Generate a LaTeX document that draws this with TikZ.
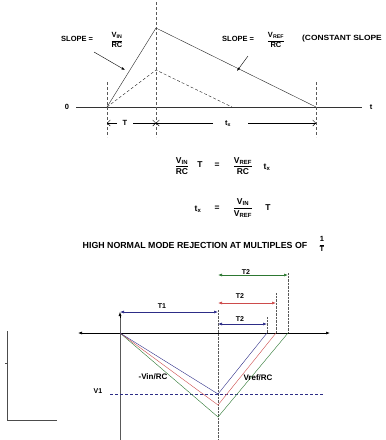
\documentclass[tikz,border=0pt]{standalone}
\usepackage{fontspec}
\usepackage{graphicx}
\setmainfont{Liberation Sans}
\usetikzlibrary{arrows.meta}
\definecolor{navyline}{RGB}{45,45,135}
\definecolor{redline}{RGB}{205,75,75}
\definecolor{greenline}{RGB}{45,120,50}
\newcommand{\lo}[1]{\textsubscript{#1}}
\newcommand{\fr}[2]{\ensuremath{\displaystyle\frac{\mbox{#1}}{\mbox{#2}}}}
\begin{document}
\begin{tikzpicture}[x=1pt,y=-1pt,
  lbl/.style={font=\bfseries\fontsize{7.5}{8}\selectfont,inner sep=0pt},
  sml/.style={font=\bfseries\fontsize{7}{8}\selectfont,inner sep=0pt},
  eqn/.style={font=\bfseries\fontsize{8.5}{9}\selectfont,inner sep=0pt},
  ttl/.style={font=\bfseries\fontsize{8.8}{9}\selectfont,inner sep=0pt},
  guide/.style={densely dashed,gray!70!black,line width=0.4pt},
  dim/.style={-{Straight Barb[length=3pt]},line width=0.4pt},
  dimarrow/.style={{Latex[length=4pt,width=3pt]}-{Latex[length=4pt,width=3pt]},line width=0.6pt}]
\useasboundingbox (0,0) rectangle (386,440);

% integrator output, top
\coordinate (o) at (107,107);
\coordinate (pk) at (156,28);
\coordinate (ed) at (316,107);
\coordinate (pkl) at (156,70);
\coordinate (edl) at (232,107);
\node[lbl] (zero) at (67,107) {0};
\node[lbl] (tt) at (371,107) {t};
\draw[gray!40!black] (76,107) -- (362,107);
\draw[guide] (107,82) -- (107,137);
\draw[guide] (156,2) -- (156,137);
\draw[guide] (316,82) -- (316,137);
\draw[gray!30!black] (o) -- (pk) -- (ed);
\draw[gray!30!black,densely dashed] (o) -- (pkl) -- (edl);

% T and t_x
\node[lbl] (T) at (125,123) {T};
\draw[dim] (117,123) -- (107,123);
\draw[dim] (133,123) -- (156,123);
\node[lbl] (tx) at (228,124) {t\lo{x}};
\draw[dim] (213,123) -- (156,123);
\draw[dim] (248,123) -- (316,123);

% slope labels
\node[lbl,anchor=west] (s1) at (61,39) {SLOPE =};
\node[lbl] (f1) at (117,40) {\fr{V\lo{IN}}{RC}};
\draw[-{Latex[length=3.5pt,width=2.5pt]}] (94,52) -- (125,70);
\node[lbl,anchor=west] (s2) at (222,39) {SLOPE =};
\node[lbl] (f2) at (276,40) {\fr{V\lo{REF}}{RC}};
\draw[-{Latex[length=3.5pt,width=2.5pt]}] (248,56) -- (237,71);
\node[lbl,anchor=west] (cs) at (302,39) {\scalebox{1.12}[1]{(CONSTANT SLOPE}};

% equations
\node[eqn] (e1a) at (182,166) {\fr{V\lo{IN}}{RC}};
\node[eqn] (e1b) at (200,165) {T};
\node[eqn] (e1c) at (217,165) {=};
\node[eqn] (e1d) at (243,166) {\fr{V\lo{REF}}{RC}};
\node[eqn] (e1e) at (267,167) {t\lo{x}};
\node[eqn] (e2a) at (198,209) {t\lo{x}};
\node[eqn] (e2b) at (217,208) {=};
\node[eqn] (e2c) at (243,208) {\fr{V\lo{IN}}{V\lo{REF}}};
\node[eqn] (e2d) at (268,208) {T};
\node[ttl] (hn) at (195,245) {HIGH NORMAL MODE REJECTION AT MULTIPLES OF};
\node[lbl] (inv) at (322,244) {\fr{1}{T}};

% dual slope, bottom
\coordinate (b0) at (120,333);
\draw[gray!60!black] (7,331) -- (7,420) -- (57,420);
\draw[gray!60!black] (5,363) -- (7,363);
\draw[dimarrow] (78,333) -- (330,333);
\draw[gray!70!black,line width=0.5pt] (120,440) -- (120,314);
\draw[-{Latex[length=4pt,width=3pt]},line width=0.5pt] (120,318) -- (120,312);
\draw[gray!70!black,densely dotted] (218,310) -- (218,440);
\draw[gray!70!black,densely dotted] (267,317) -- (267,333);
\draw[gray!70!black,densely dotted] (276,293) -- (276,333);
\draw[gray!70!black,densely dotted] (288,273) -- (288,333);
\draw[navyline,densely dashed] (110,394) -- (323,394);
\draw[greenline] (b0) -- (218,417) -- (288,333);
\draw[redline] (b0) -- (218,405) -- (276,333);
\draw[navyline] (b0) -- (218,394) -- (267,333);
\node[sml] (v1) at (98,391) {V1};
\node[lbl,font=\bfseries\fontsize{8}{9}\selectfont] (vin) at (153,377) {-Vin/RC};
\node[lbl,font=\bfseries\fontsize{8}{9}\selectfont] (vref) at (258,378) {Vref/RC};
\draw[dimarrow,navyline] (120,312) -- (218,312);
\node[sml] (t1) at (162,306) {T1};
\draw[dimarrow,navyline] (218,324) -- (267,324);
\node[sml] (t2a) at (240,319) {T2};
\draw[dimarrow,redline] (218,303) -- (276,303);
\node[sml] (t2b) at (240,296) {T2};
\draw[dimarrow,greenline] (218,275) -- (288,275);
\node[sml] (t2c) at (246,272) {T2};
\end{tikzpicture}
\end{document}
